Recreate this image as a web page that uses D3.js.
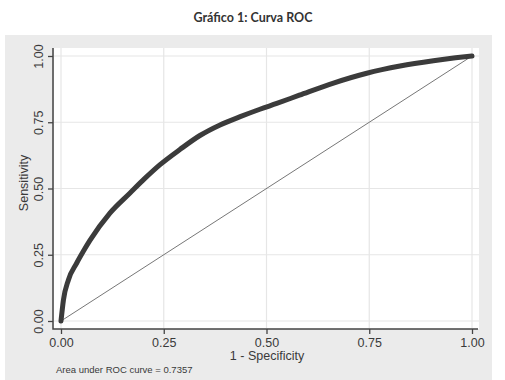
<!DOCTYPE html>
<html>
<head>
<meta charset="utf-8">
<script src="https://cdn.jsdelivr.net/npm/d3@7"></script>
<style>
  body { margin: 0; background: #fff; }
  svg { display: block; }
</style>
</head>
<body>
<svg id="chart"></svg>
<script>
const width = 505,
      height = 380;

// ROC curve
const specComplement = [0, 0.006, 0.018, 0.038, 0.054, 0.07, 0.119, 0.168, 0.204, 0.241, 0.29, 0.338, 0.387, 0.436, 0.484, 0.525, 0.58, 0.663, 0.744, 0.825, 0.906, 0.96, 1];
const sensitivity   = [0, 0.08, 0.155, 0.218, 0.262, 0.303, 0.407, 0.483, 0.538, 0.59, 0.648, 0.7, 0.74, 0.771, 0.799, 0.821, 0.852, 0.898, 0.935, 0.962, 0.982, 0.993, 1];
const ticks = [0, 0.25, 0.5, 0.75, 1];

const title = "Gráfico 1: Curva ROC";
const xTitle = "1 - Specificity";
const yTitle = "Sensitivity";
const note = "Area under ROC curve = 0.7357";

const svg = d3.select("#chart")
  .attr("width", width)
  .attr("height", height);

const x = d3.scaleLinear().domain([0, 1]).range([61, 472]);
const y = d3.scaleLinear().domain([0, 1]).range([321, 56]);

// panels
svg.append("rect")
  .attr("x", 5).attr("y", 35)
  .attr("width", 487).attr("height", 345)
  .attr("fill", "#ebebeb");

svg.append("rect")
  .attr("x", 54).attr("y", 48)
  .attr("width", 425).attr("height", 281)
  .attr("fill", "#fff");

// grid
const grid = svg.append("g")
  .attr("stroke", "#e6e6e6")
  .attr("stroke-width", 1.2);

grid.selectAll("line.v")
  .data(ticks)
  .join("line")
  .attr("class", "v")
  .attr("x1", d => x(d)).attr("x2", d => x(d))
  .attr("y1", 48).attr("y2", 328);

grid.selectAll("line.h")
  .data(ticks)
  .join("line")
  .attr("class", "h")
  .attr("y1", d => y(d)).attr("y2", d => y(d))
  .attr("x1", 54).attr("x2", 479);

// axes
const xAxis = svg.append("g")
  .attr("transform", "translate(0,329)")
  .call(d3.axisBottom(x).tickValues(ticks).tickFormat(d3.format(".2f")).tickSize(5).tickSizeOuter(0).tickPadding(4));

const yAxis = svg.append("g")
  .attr("transform", "translate(53,0)")
  .call(d3.axisLeft(y).tickValues(ticks).tickFormat(d3.format(".2f")).tickSize(5).tickSizeOuter(0));

[xAxis, yAxis].forEach(g => {
  g.select(".domain").remove();
  g.selectAll("line").attr("stroke", "#444").attr("stroke-width", 1.3);
  g.selectAll("text")
    .attr("fill", "#3a3a3a")
    .attr("font-family", "Liberation Sans, Arial, sans-serif")
    .attr("font-size", "12.5px");
});

yAxis.selectAll(".tick text")
  .attr("transform", "rotate(-90)")
  .attr("text-anchor", "middle")
  .attr("x", 0)
  .attr("y", -10)
  .attr("dy", "0");

svg.append("path")
  .attr("d", "M53,48V329H478")
  .attr("fill", "none")
  .attr("stroke", "#444")
  .attr("stroke-width", 1.5);

// reference diagonal
svg.append("line")
  .attr("x1", x(0)).attr("y1", y(0))
  .attr("x2", x(1)).attr("y2", y(1))
  .attr("stroke", "#777")
  .attr("stroke-width", 1);

// ROC curve
const pts = specComplement.map((d, i) => [d, sensitivity[i]]);
const line = d3.line()
  .x(d => x(d[0]))
  .y(d => y(d[1]))
  .curve(d3.curveMonotoneX);

svg.append("path")
  .datum(pts)
  .attr("d", line)
  .attr("fill", "none")
  .attr("stroke", "#3b3b3b")
  .attr("stroke-width", 5)
  .attr("stroke-linecap", "round")
  .attr("stroke-linejoin", "round");

// texts
svg.append("text")
  .attr("x", 253).attr("y", 22)
  .attr("text-anchor", "middle")
  .attr("font-family", "Lato, sans-serif")
  .attr("font-weight", "bold")
  .attr("font-size", "12.5px")
  .attr("fill", "#333")
  .text(title);

svg.append("text")
  .attr("x", 267).attr("y", 360)
  .attr("text-anchor", "middle")
  .attr("font-family", "Liberation Sans, Arial, sans-serif")
  .attr("font-size", "12.5px")
  .attr("fill", "#3a3a3a")
  .text(xTitle);

svg.append("text")
  .attr("transform", "translate(28,183) rotate(-90)")
  .attr("text-anchor", "middle")
  .attr("font-family", "Liberation Sans, Arial, sans-serif")
  .attr("font-size", "12.5px")
  .attr("fill", "#3a3a3a")
  .text(yTitle);

svg.append("text")
  .attr("x", 56).attr("y", 373)
  .attr("font-family", "Liberation Sans, Arial, sans-serif")
  .attr("font-size", "9.5px")
  .attr("fill", "#3a3a3a")
  .text(note);
</script>
</body>
</html>
